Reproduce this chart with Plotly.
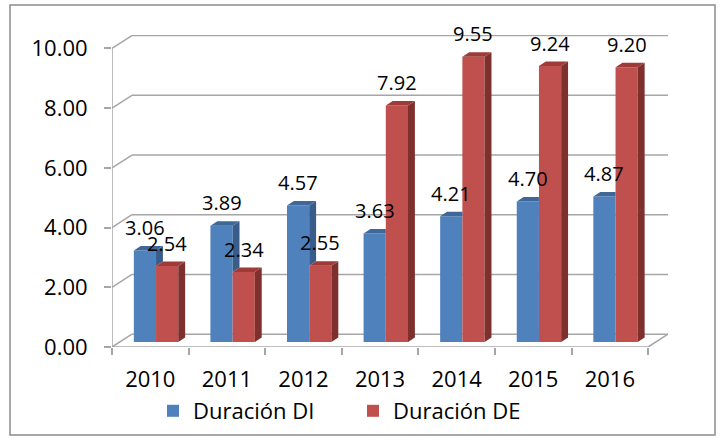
import plotly.graph_objects as go

years = ["2010", "2011", "2012", "2013", "2014", "2015", "2016"]
dur_di = [3.06, 3.89, 4.57, 3.63, 4.21, 4.70, 4.87]
dur_de = [2.54, 2.34, 2.55, 7.92, 9.55, 9.24, 9.20]
y_ticks = [0, 2, 4, 6, 8, 10]
series_names = ["Duración DI", "Duración DE"]

# style constants (pseudo-3D look)
BLUE, RED = "#4F81BD", "#C0504D"
BLUE_SIDE, BLUE_TOP = "#385D8A", "#3F6898"
RED_SIDE, RED_TOP = "#7E302E", "#9E3B39"
GRID = "#A6A6A6"
FONT = "Open Sans"
W = 0.29          # bar width (category units)
OFF_B, OFF_R = -0.215, 0.075
FL = 0.17         # floor lift of bars
DX, DY = 0.09, 0.15   # bar depth
WX, WY = 0.26, 0.43   # wall depth
XMAX = 6.5 + WX

idx = list(range(len(years)))

fig = go.Figure()
fig.add_bar(x=idx, y=dur_di, base=FL, width=W, offset=OFF_B, marker=dict(color=BLUE, line=dict(width=0)),
            name=series_names[0], hoverinfo="skip")
fig.add_bar(x=idx, y=dur_de, base=FL, width=W, offset=OFF_R, marker=dict(color=RED, line=dict(width=0)),
            name=series_names[1], hoverinfo="skip")

def poly_trace(polys, color):
    xs, ys = [], []
    for p in polys:
        for (a, b) in p + [p[0]]:
            xs.append(a); ys.append(b)
        xs.append(None); ys.append(None)
    return go.Scatter(x=xs, y=ys, mode="lines", fill="toself", fillcolor=color,
                      line=dict(width=0, color=color), showlegend=False, hoverinfo="skip")

b_top, b_side, r_top, r_side = [], [], [], []
for i, vb, vr in zip(idx, dur_di, dur_de):
    xl, xr = i + OFF_B, i + OFF_B + W
    tb, tr = vb + FL, vr + FL
    xrt = xr + DX if vb >= vr else xr
    b_top.append([(xl, tb), (xl + DX, tb + DY), (xrt, tb + DY), (xr, tb)])
    if vb > vr:
        b_side.append([(xr, tr), (xr + DX, tr + DY), (xr + DX, tb + DY), (xr, tb)])
    rl, rr = i + OFF_R, i + OFF_R + W
    r_top.append([(rl, tr), (rl + DX, tr + DY), (rr + DX, tr + DY), (rr, tr)])
    r_side.append([(rr, FL), (rr + DX, FL + DY), (rr + DX, tr + DY), (rr, tr)])

fig.add_trace(poly_trace(b_side, BLUE_SIDE))
fig.add_trace(poly_trace(b_top, BLUE_TOP))
fig.add_trace(poly_trace(r_side, RED_SIDE))
fig.add_trace(poly_trace(r_top, RED_TOP))

shapes = []
for v in y_ticks:
    shapes.append(dict(type="line", xref="x", yref="y", x0=-0.5, y0=v, x1=-0.5 + WX, y1=v + WY,
                       line=dict(color=GRID, width=1.5), layer="below"))
    shapes.append(dict(type="line", xref="x", yref="y", x0=-0.5 + WX, y0=v + WY, x1=XMAX, y1=v + WY,
                       line=dict(color=GRID, width=1.5), layer="below"))
shapes.append(dict(type="line", xref="x", yref="y", x0=6.5, y0=0, x1=XMAX, y1=WY,
                   line=dict(color=GRID, width=1.5), layer="below"))
shapes.append(dict(type="line", xref="x", yref="y", x0=-0.5, y0=0, x1=6.5, y1=0,
                   line=dict(color=GRID, width=1.5), layer="below"))
shapes.append(dict(type="line", xref="x", yref="y", x0=-0.5, y0=0, x1=-0.5, y1=10,
                   line=dict(color=GRID, width=1.5), layer="below"))
# outer chart border
shapes.append(dict(type="rect", xref="paper", yref="paper",
                   x0=(10 - 112) / 556, x1=(715 - 112) / 556,
                   y0=(347 - 435) / 312, y1=(347 - 5) / 312,
                   line=dict(color="#8C8C8C", width=1.5)))

annotations = []
for i, vb, vr in zip(idx, dur_di, dur_de):
    annotations.append(dict(x=i + OFF_B + W / 2, y=vb + FL, text=f"{vb:.2f}", showarrow=False,
                            yanchor="middle", yshift=23, font=dict(size=20, color="black", family=FONT)))
    annotations.append(dict(x=i + OFF_R + W / 2, y=vr + FL, text=f"{vr:.2f}", showarrow=False,
                            yanchor="middle", yshift=23, font=dict(size=20, color="black", family=FONT)))

fig.update_layout(
    width=723, height=439,
    margin=dict(l=112, r=55, t=35, b=92, autoexpand=False),
    paper_bgcolor="white", plot_bgcolor="white",
    font=dict(family=FONT, size=22, color="black"),
    barmode="overlay",
    showlegend=True,
    legend=dict(orientation="h", x=153 / 723, xref="container", xanchor="left",
                y=1 - 411 / 439, yref="container", yanchor="middle", bgcolor="rgba(0,0,0,0)",
                font=dict(size=22), entrywidth=155, traceorder="normal"),
    shapes=shapes, annotations=annotations,
)
fig.update_xaxes(range=[-0.5, XMAX], tickmode="array", tickvals=idx, ticktext=years,
                 ticks="", showgrid=False, zeroline=False, showline=False, automargin=False,
                 minor=dict(tickmode="array", tickvals=[k - 0.5 for k in range(len(years) + 1)],
                            ticks="outside", ticklen=7, tickcolor=GRID, tickwidth=1.5, showgrid=False),
                 ticklabelstandoff=17, tickfont=dict(size=22))
fig.update_yaxes(range=[0, 10.45], tickmode="array", tickvals=y_ticks, tickformat=".2f",
                 ticks="outside", ticklen=7, tickcolor=GRID, tickwidth=1.5, ticklabelstandoff=12,
                 showgrid=False, zeroline=False, showline=False, automargin=False, tickfont=dict(size=22))

fig.write_html("out.html", config={"displayModeBar": False},
               post_script="document.body.style.margin='0';document.body.style.overflow='hidden';")
